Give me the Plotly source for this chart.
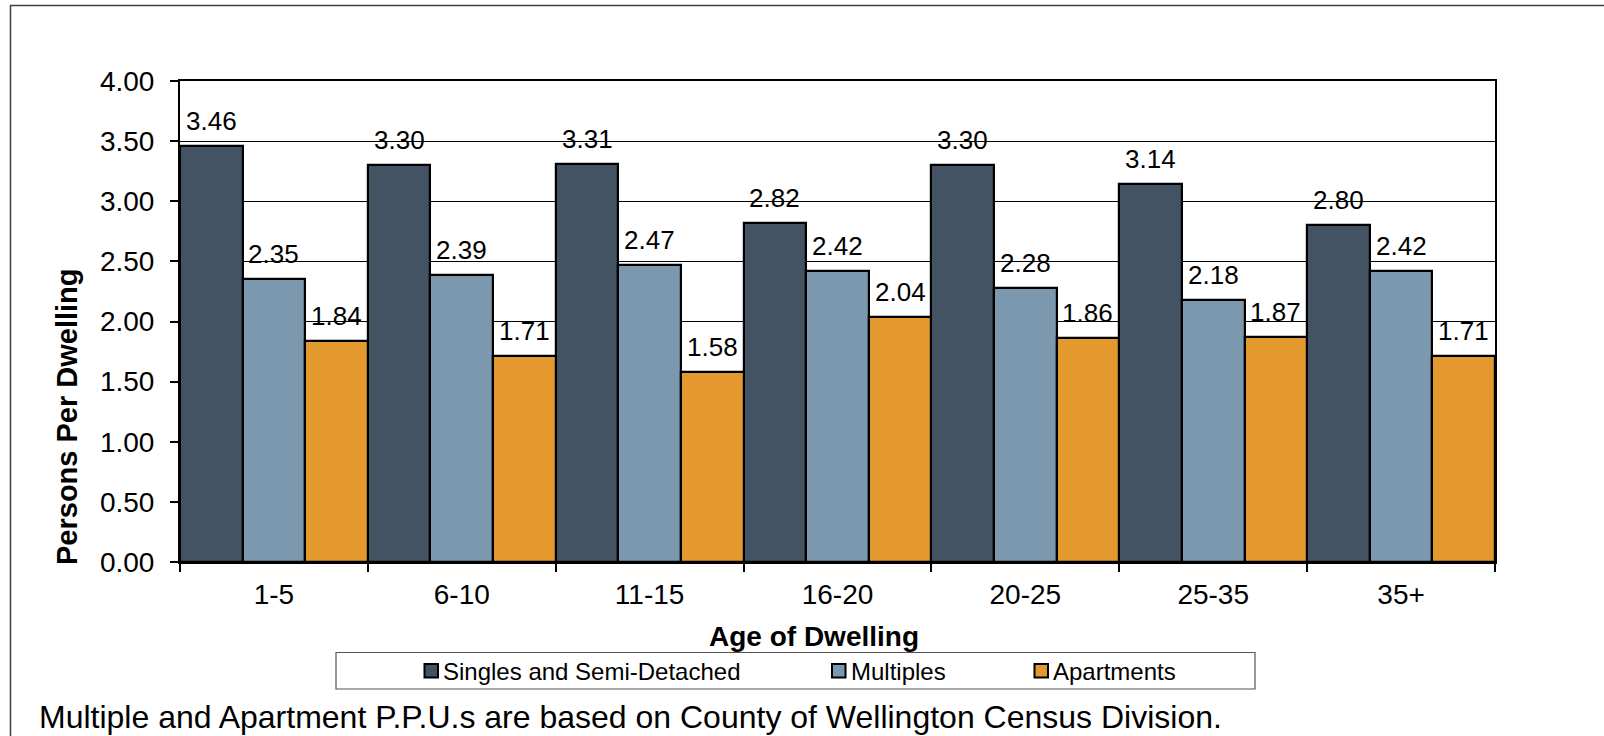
import plotly.graph_objects as go

# Persons per dwelling by age of dwelling
categories = ["1-5", "6-10", "11-15", "16-20", "20-25", "25-35", "35+"]
singles = [3.46, 3.30, 3.31, 2.82, 3.30, 3.14, 2.80]
multiples = [2.35, 2.39, 2.47, 2.42, 2.28, 2.18, 2.42]
apartments = [1.84, 1.71, 1.58, 2.04, 1.86, 1.87, 1.71]
series_names = ["Singles and Semi-Detached", "Multiples", "Apartments"]
y_ticks = [0, 0.5, 1.0, 1.5, 2.0, 2.5, 3.0, 3.5, 4.0]

colors = ["#435364", "#7B98AE", "#E3992E"]
FONT = "Liberation Sans, Arial, sans-serif"

# page and plot-area geometry (pixels)
W, H = 1604, 736
L, R, T, B = 180, 1495, 81, 562


def fx(px):
    return (px - L) / (R - L)


def fy(py):
    return (B - py) / (B - T)


fig = go.Figure()
all_series = [singles, multiples, apartments]
for name, vals, col in zip(series_names, all_series, colors):
    fig.add_trace(go.Bar(
        x=categories, y=vals, name=name,
        marker=dict(color=col, line=dict(color="black", width=2.2)),
        showlegend=False,
    ))

annotations = []
# value labels above each bar
for k, vals in enumerate(all_series):
    for i, v in enumerate(vals):
        annotations.append(dict(
            x=i + (k - 1) / 3, y=v, xref="x", yref="y",
            text=f"{v:.2f}", showarrow=False, yanchor="bottom", yshift=8,
            font=dict(family=FONT, size=26, color="black"),
        ))

# axis titles and footnote
annotations.append(dict(
    x=fx(813.5), y=fy(636), xref="paper", yref="paper",
    text="<b>Age of Dwelling</b>", showarrow=False,
    xanchor="center", yanchor="middle",
    font=dict(family=FONT, size=28, color="black"),
))
annotations.append(dict(
    x=fx(67), y=fy(417), xref="paper", yref="paper",
    text="<b>Persons Per Dwelling</b>", showarrow=False, textangle=-90,
    xanchor="center", yanchor="middle",
    font=dict(family=FONT, size=29, color="black"),
))
annotations.append(dict(
    x=fx(37), y=fy(717), xref="paper", yref="paper",
    text="Multiple and Apartment P.P.U.s are based on County of Wellington Census Division.",
    showarrow=False, xanchor="left", yanchor="middle",
    font=dict(family=FONT, size=32, color="black"),
))

shapes = []
# outer frame
shapes.append(dict(type="rect", xref="paper", yref="paper",
                   x0=fx(10.5), x1=fx(1620), y0=fy(5.5), y1=fy(760),
                   line=dict(color="#404040", width=1.5), layer="below"))
# legend box
shapes.append(dict(type="rect", xref="paper", yref="paper",
                   x0=fx(336), x1=fx(1255), y0=fy(689), y1=fy(652.5),
                   line=dict(color="#555555", width=1.2), fillcolor="white"))
legend_pos = [(424.5, 441), (832, 848.5), (1034.5, 1051)]
for (mx, tx), name, col in zip(legend_pos, series_names, colors):
    shapes.append(dict(type="rect", xref="paper", yref="paper",
                       x0=fx(mx), x1=fx(mx + 13.5), y0=fy(677.5), y1=fy(664),
                       line=dict(color="black", width=2), fillcolor=col))
    annotations.append(dict(
        x=fx(tx), y=fy(671), xref="paper", yref="paper",
        text=name, showarrow=False, xanchor="left", yanchor="middle",
        font=dict(family=FONT, size=24, color="black"),
    ))

fig.update_layout(
    width=W, height=H,
    margin=dict(l=L, r=W - R, t=T, b=H - B, pad=0),
    paper_bgcolor="white", plot_bgcolor="white",
    barmode="group", bargap=0, bargroupgap=0,
    font=dict(family=FONT, color="black"),
    annotations=annotations, shapes=shapes,
    showlegend=False,
)
fig.update_xaxes(
    type="category", range=[-0.5, 6.5], tickson="boundaries",
    ticks="outside", ticklen=8, tickwidth=1.5, tickcolor="black",
    ticklabelstandoff=6,
    showline=True, linecolor="black", linewidth=2, mirror=True,
    showgrid=False, tickfont=dict(family=FONT, size=28, color="black"),
)
fig.update_yaxes(
    range=[0, 4], tickvals=y_ticks, tickformat=".2f",
    ticks="outside", ticklen=8, tickwidth=1.5, tickcolor="black",
    ticklabelstandoff=10,
    showline=True, linecolor="black", linewidth=2, mirror=True,
    showgrid=True, gridcolor="black", gridwidth=1, zeroline=False,
    tickfont=dict(family=FONT, size=28, color="black"),
)

fig.write_html("out.html")
